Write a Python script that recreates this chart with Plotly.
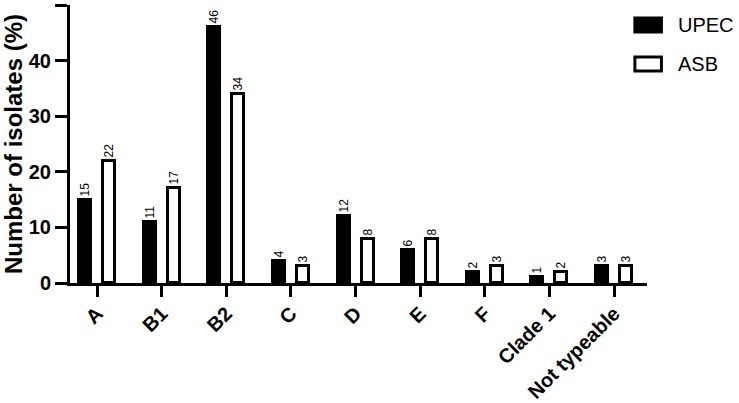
import plotly.graph_objects as go

# Phylogruppen
gruppen = ['A', 'B1', 'B2', 'C', 'D', 'E', 'F', 'Clade 1', 'Not typeable']
upec = [15, 11, 46, 4, 12, 6, 2, 1, 3]
asb = [22, 17, 34, 3, 8, 8, 3, 2, 3]
serien = ['UPEC', 'ASB']

schrift = 'Liberation Sans, Arial, sans-serif'
fuellung = {'UPEC': 'black', 'ASB': 'white'}

fig = go.Figure()
for name, werte, off in [('UPEC', upec, -0.279), ('ASB', asb, 0.093)]:
    fig.add_trace(go.Bar(
        x=gruppen, y=werte, name=name,
        marker=dict(color=fuellung[name], line=dict(color='black', width=3)),
        width=0.186, offset=off,
        text=werte, textposition='outside', textangle=-90, constraintext='none',
        textfont=dict(family=schrift, size=12, color='black'),
        cliponaxis=False, showlegend=False,
    ))

# Legende von Hand (Prism-Stil: breite Rechtecke)
for i, name in enumerate(serien):
    y_oben = 0.953 - i * 0.14
    fig.add_shape(type='rect', xref='paper', yref='paper',
                  x0=0.979, x1=1.025, y0=y_oben - 0.05, y1=y_oben,
                  fillcolor=fuellung[name], line=dict(color='black', width=3))
    fig.add_annotation(text=name, xref='paper', yref='paper',
                       x=1.05, y=y_oben - 0.025, xanchor='left', yanchor='middle',
                       showarrow=False,
                       font=dict(family=schrift, size=20, color='black'))

fig.update_layout(
    width=739, height=403,
    margin=dict(l=70, r=92, t=5, b=120),
    plot_bgcolor='white', paper_bgcolor='white',
    font=dict(family=schrift, color='black'),
    bargap=0,
    showlegend=False,
)
fig.update_xaxes(
    range=[-0.42, 8.51], showline=True, linecolor='black', linewidth=3,
    ticks='outside', ticklen=11, tickwidth=3, tickcolor='black',
    tickangle=-45, showgrid=False, zeroline=False, automargin=False,
    ticklabelstandoff=-3,
    tickfont=dict(family=schrift, size=20, color='black', weight='bold'),
)
fig.update_yaxes(
    range=[0, 50], dtick=10, showline=True, linecolor='black', linewidth=3,
    ticks='outside', ticklen=12, tickwidth=3, tickcolor='black',
    showgrid=False, zeroline=False, automargin=False,
    tickfont=dict(family=schrift, size=20, color='black', weight='bold'),
    title=dict(text='Number of isolates (%)', standoff=8,
               font=dict(family=schrift, size=24, color='black', weight='bold')),
)

# Seitenrand des Browsers entfernen, damit die Grafik bei (0,0) beginnt
fig.write_html("out.html", config={'displayModeBar': False},
               post_script="document.body.style.margin='0';")
